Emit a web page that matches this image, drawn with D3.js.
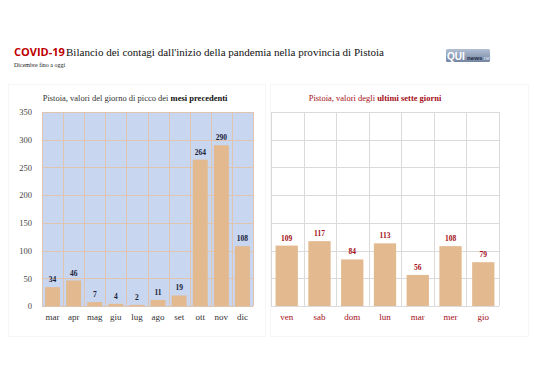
<!DOCTYPE html>
<html><head><meta charset="utf-8">
<script src="https://cdn.jsdelivr.net/npm/d3@7"></script>
<style>body{margin:0;background:#fff}svg{display:block}</style>
</head><body><svg id="c" width="538" height="380"></svg>
<script>
const months = ["mar","apr","mag","giu","lug","ago","set","ott","nov","dic"];
const monthValues = [34,46,7,4,2,11,19,264,290,108];
const days = ["ven","sab","dom","lun","mar","mer","gio"];
const dayValues = [109,117,84,113,56,108,79];
const yTicks = [0,50,100,150,200,250,300,350];

const svg = d3.select("#c");
const serif = "'Liberation Serif', 'DejaVu Serif', serif";
const red = "#a50e16";
const barColor = "#e3b98f";

// title
svg.append("text").attr("x",14).attr("y",56).attr("font-family","'Open Sans', 'Liberation Sans', sans-serif")
  .attr("font-weight","bold").attr("font-size",11).attr("fill","#c00000").text("COVID-19");
svg.append("text").attr("x",66).attr("y",56).attr("font-family",serif).attr("font-size",11).attr("fill","#111")
  .attr("textLength",318).attr("lengthAdjust","spacingAndGlyphs")
  .text("Bilancio dei contagi dall'inizio della pandemia nella provincia di Pistoia");
svg.append("text").attr("x",14).attr("y",67).attr("font-family",serif).attr("font-size",6).attr("fill","#222")
  .text("Dicembre fino a oggi");

// logo
const grad = svg.append("defs").append("linearGradient").attr("id","lg").attr("x1",0).attr("y1",0).attr("x2",0).attr("y2",1);
grad.append("stop").attr("offset","0").attr("stop-color","#b3c0d4");
grad.append("stop").attr("offset","1").attr("stop-color","#7485a2");
const lg = svg.append("g");
lg.append("rect").attr("x",446).attr("y",49).attr("width",44).attr("height",13).attr("rx",1.5).attr("fill","url(#lg)");
const lt = lg.append("text").attr("y",59.5).attr("font-family","'Liberation Sans', sans-serif").attr("font-weight","bold");
lt.append("tspan").attr("x",447).attr("font-size",10).attr("fill","#fff").text("QUI");
lt.append("tspan").attr("x",467).attr("font-size",6.2).attr("fill","#1e2a44").text("news");
lt.append("tspan").attr("x",482.5).attr("font-size",5).attr("font-weight","normal").attr("fill","#e4e9f2").text(".net");

// faint panel boxes
svg.append("rect").attr("x",8.5).attr("y",84.5).attr("width",257).attr("height",252).attr("fill","none").attr("stroke","#f6f6f6");
svg.append("rect").attr("x",270.5).attr("y",84.5).attr("width",258).attr("height",252).attr("fill","none").attr("stroke","#f6f6f6");

const y = d3.scaleLinear().domain([0,350]).range([306,112]);

// LEFT panel
const xL = d3.scaleBand().domain(months).range([42,253]).paddingInner(0.29).paddingOuter(0.145);
const gL = svg.append("g");
gL.append("rect").attr("x",42).attr("y",y(350)).attr("width",211).attr("height",y(0)-y(350)).attr("fill","#c8d6f0");
gL.selectAll("line.h").data(yTicks).join("line").attr("x1",42).attr("x2",253)
  .attr("y1",d=>Math.round(y(d))+0.5).attr("y2",d=>Math.round(y(d))+0.5).attr("stroke","#dfc5b0").attr("stroke-width",1);
const stepL = 211/months.length;
gL.selectAll("line.v").data(d3.range(months.length+1)).join("line")
  .attr("x1",i=>Math.round(42+i*stepL)+0.5).attr("x2",i=>Math.round(42+i*stepL)+0.5)
  .attr("y1",y(350)).attr("y2",y(0)).attr("stroke","#dfc5b0");
gL.selectAll("rect.bar").data(monthValues).join("rect").attr("class","bar")
  .attr("x",(d,i)=>xL(months[i])).attr("width",xL.bandwidth())
  .attr("y",d=>y(d)).attr("height",d=>y(0)-y(d)).attr("fill",barColor);
gL.selectAll("text.val").data(monthValues).join("text").attr("class","val")
  .attr("x",(d,i)=>xL(months[i])+xL.bandwidth()/2).attr("y",d=>y(d)-5)
  .attr("text-anchor","middle").attr("font-family",serif).attr("font-weight","bold").attr("font-size",7.5).attr("fill","#1a2238")
  .text(d=>d);
const yAxis = d3.axisLeft(y).tickValues(yTicks).tickSize(0).tickPadding(10);
const ya = svg.append("g").attr("transform","translate(42,0)").call(yAxis);
ya.select(".domain").remove();
ya.selectAll("text").attr("font-family",serif).attr("font-size",8.5).attr("fill","#444");
const xAxisL = d3.axisBottom(xL).tickSize(0).tickPadding(8);
const xa = svg.append("g").attr("transform","translate(0,306)").call(xAxisL);
xa.select(".domain").remove();
xa.selectAll("text").attr("font-family",serif).attr("font-size",9).attr("fill","#333");

const s1 = svg.append("text").attr("x",135).attr("y",101).attr("text-anchor","middle").attr("font-family",serif).attr("font-size",8.5).attr("fill","#333");
s1.append("tspan").text("Pistoia, valori del giorno di picco dei ");
s1.append("tspan").attr("font-weight","bold").attr("fill","#111").text("mesi precedenti");

// RIGHT panel
const xR = d3.scaleBand().domain(days).range([271,499]).paddingInner(0.32).paddingOuter(0.14);
const gR = svg.append("g");
gR.selectAll("line.h").data(yTicks).join("line").attr("x1",271).attr("x2",499)
  .attr("y1",d=>Math.round(y(d))+0.5).attr("y2",d=>Math.round(y(d))+0.5).attr("stroke","#dadada");
const stepR = 228/days.length;
gR.selectAll("line.v").data(d3.range(days.length+1)).join("line")
  .attr("x1",i=>Math.round(271+i*stepR)+0.5).attr("x2",i=>Math.round(271+i*stepR)+0.5)
  .attr("y1",y(350)).attr("y2",y(0)).attr("stroke","#dadada");
gR.selectAll("rect.bar").data(dayValues).join("rect").attr("class","bar")
  .attr("x",(d,i)=>xR(days[i])).attr("width",xR.bandwidth())
  .attr("y",d=>y(d)).attr("height",d=>y(0)-y(d)).attr("fill",barColor);
gR.selectAll("text.val").data(dayValues).join("text").attr("class","val")
  .attr("x",(d,i)=>xR(days[i])+xR.bandwidth()/2).attr("y",d=>y(d)-5)
  .attr("text-anchor","middle").attr("font-family",serif).attr("font-weight","bold").attr("font-size",7.5).attr("fill",red)
  .text(d=>d);
const xAxisR = d3.axisBottom(xR).tickSize(0).tickPadding(8);
const xb = svg.append("g").attr("transform","translate(0,306)").call(xAxisR);
xb.select(".domain").remove();
xb.selectAll("text").attr("font-family",serif).attr("font-size",9).attr("fill",red);

const s2 = svg.append("text").attr("x",375).attr("y",101).attr("text-anchor","middle").attr("font-family",serif).attr("font-size",8.5).attr("fill",red);
s2.append("tspan").text("Pistoia, valori degli ");
s2.append("tspan").attr("font-weight","bold").text("ultimi sette giorni");
</script></body></html>
